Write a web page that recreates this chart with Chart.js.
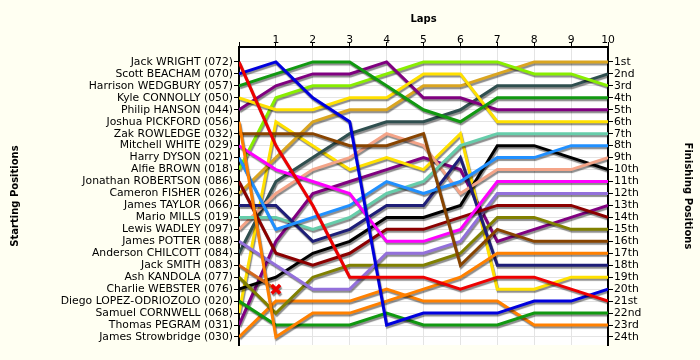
<!DOCTYPE html>
<html><head><meta charset="utf-8">
<script src="https://cdn.jsdelivr.net/npm/chart.js@4/dist/chart.umd.min.js"></script>
<style>html,body{margin:0;padding:0;background:#FFFFF2;}#wrap{width:700px;height:360px;}</style>
</head><body><div id="wrap"><canvas id="c" width="700" height="360"></canvas></div>
<script>
const laps = [0,1,2,3,4,5,6,7,8,9,10];
const lapLabels = ['', '1','2','3','4','5','6','7','8','9','10'];
const starters = ['Jack WRIGHT (072)','Scott BEACHAM (070)','Harrison WEDGBURY (057)','Kyle CONNOLLY (050)','Philip HANSON (044)','Joshua PICKFORD (056)','Zak ROWLEDGE (032)','Mitchell WHITE (029)','Harry DYSON (021)','Alfie BROWN (018)','Jonathan ROBERTSON (086)','Cameron FISHER (026)','James TAYLOR (066)','Mario MILLS (019)','Lewis WADLEY (097)','James POTTER (088)','Anderson CHILCOTT (084)','Jack SMITH (083)','Ash KANDOLA (077)','Charlie WEBSTER (076)','Diego LOPEZ-ODRIOZOLO (020)','Samuel CORNWELL (068)','Thomas PEGRAM (031)','James Strowbridge (030)'];
const finishLabels = ['1st','2nd','3rd','4th','5th','6th','7th','8th','9th','10th','11th','12th','13th','14th','15th','16th','17th','18th','19th','20th','21st','22nd','23rd','24th'];

// positions per lap (lap 0 = grid)
const wright     = [1, 8, 13, 19, 19, 19, 20, 19, 19, 20, 21];
const beacham    = [2, 1, 4, 6, 23, 22, 22, 22, 21, 21, 20];
const wedgbury   = [3, 2, 1, 1, 3, 5, 6, 4, 4, 4, 4];
const connolly   = [4, 5, 5, 4, 4, 2, 2, 6, 6, 6, 6];
const hanson     = [5, 3, 2, 2, 1, 4, 4, 5, 5, 5, 5];
const pickford   = [6, 24, 22, 22, 21, 20, 19, 17, 17, 17, 17];
const rowledge   = [7, 7, 7, 8, 8, 7, 18, 15, 16, 16, 16];
const white      = [8, 10, 11, 12, 16, 16, 15, 11, 11, 11, 11];
const dyson      = [9, 15, 14, 13, 11, 12, 11, 9, 9, 8, 8];
const brown      = [10, 4, 3, 3, 2, 1, 1, 1, 2, 2, 3];
const robertson  = [11, 17, 18, 17, 15, 15, 14, 13, 13, 13, 14];
const fisher     = [12, 9, 6, 5, 5, 3, 3, 2, 1, 1, 1];
const taylor     = [13, 13, 16, 15, 13, 13, 9, 18, 18, 18, 18];
const mills      = [14, 14, 15, 14, 12, 11, 8, 7, 7, 7, 7];
const wadley     = [15, 12, 10, 9, 7, 8, 12, 10, 10, 10, 9];
const potter     = [16, 18, 20, 20, 17, 17, 16, 12, 12, 12, 12];
const chilcott   = [17, 11, 9, 7, 6, 6, 5, 3, 3, 3, 2];
const smith      = [18, 20];
const kandola    = [19, 22, 19, 18, 18, 18, 17, 14, 14, 15, 15];
const webster    = [20, 19, 17, 16, 14, 14, 13, 8, 8, 9, 10];
const lopez      = [21, 23, 23, 23, 22, 23, 23, 23, 22, 22, 22];
const cornwell   = [22, 6, 8, 10, 9, 10, 7, 20, 20, 19, 19];
const pegram     = [23, 16, 12, 11, 10, 9, 10, 16, 15, 14, 13];
const strowbridge= [24, 21, 21, 21, 20, 21, 21, 21, 23, 23, 23];

const series = [wright, beacham, wedgbury, connolly, hanson, pickford, rowledge, white, dyson, brown, robertson, fisher, taylor, mills, wadley, potter, chilcott, smith, kandola, webster, lopez, cornwell, pegram, strowbridge];
const colours = ['#EE0000','#0000DD','#119911','#FFE000','#800080','#FF8000','#884400','#FF00FF','#2090FF','#88EE00','#8B0000','#DAA520','#1E1E78','#66CDAA','#F4A488','#9370DB','#2F4F4F','#D2691E','#808000','#000000','#119911','#FFE000','#800080','#FF8000'];

const datasets = series.map((arr, i) => ({
  label: starters[i],
  data: arr.map((p, k) => ({x: laps[k], y: p})),
  borderColor: colours[i],
  backgroundColor: colours[i],
  borderWidth: 3,
  tension: 0,
  fill: false,
  pointRadius: arr === smith ? arr.map((p, k) => k === arr.length - 1 ? 6 : 0) : 0,
  pointStyle: 'crossRot',
  pointBorderColor: '#EE0000',
  pointBorderWidth: 3.5,
  yAxisID: 'y'
}));

const bgPlugin = {
  id: 'bg',
  beforeDraw(chart) {
    const {ctx, chartArea: a} = chart;
    ctx.save();
    ctx.fillStyle = '#FFFFF2';
    ctx.fillRect(0, 0, chart.width, chart.height);
    ctx.fillStyle = '#FFFFFF';
    ctx.fillRect(a.left, a.top, a.right - a.left, a.bottom - a.top);
    ctx.restore();
  }
};
const shadowPlugin = {
  id: 'shadow',
  beforeDatasetDraw(chart) {
    const ctx = chart.ctx;
    ctx.save();
    ctx.shadowColor = 'rgba(0,0,0,0.45)';
    ctx.shadowBlur = 1;
    ctx.shadowOffsetX = 1;
    ctx.shadowOffsetY = 2;
  },
  afterDatasetDraw(chart) { chart.ctx.restore(); }
};

const tickFont = {family: 'DejaVu Sans', size: 10.8};
const titleFont = {family: 'DejaVu Sans', size: 10, weight: 'bold'};
const posTicks = starters.map((s, i) => ({value: i + 1}));

new Chart(document.getElementById('c'), {
  type: 'line',
  data: {datasets},
  options: {
    responsive: false,
    animation: false,
    devicePixelRatio: 1,
    layout: {padding: {left: 0, right: 0, top: 0, bottom: 15}},
    plugins: {legend: {display: false}, tooltip: {enabled: false}},
    scales: {
      x: {
        type: 'linear', position: 'top', min: 0, max: 10,
        afterBuildTicks: s => { s.ticks = laps.map(v => ({value: v})); },
        afterFit: s => { s.height = 47; },
        ticks: {font: tickFont, color: '#000', padding: -5, callback: v => lapLabels[v], maxRotation: 0},
        grid: {color: '#E4E4E4', tickColor: '#000', tickLength: 5},
        border: {color: '#000', width: 2},
        title: {display: true, text: 'Laps', font: titleFont, color: '#000', padding: {top: 13, bottom: 0}}
      },
      y: {
        type: 'linear', position: 'left', reverse: true, min: -0.25, max: 24.67,
        afterBuildTicks: s => { s.ticks = posTicks.map(t => ({value: t.value})); },
        afterFit: s => { s.width = 239; },
        ticks: {font: tickFont, color: '#000', padding: 1, callback: v => starters[v - 1], autoSkip: false},
        grid: {color: '#E4E4E4', tickColor: '#000', tickLength: 5},
        border: {color: '#000', width: 2},
        title: {display: true, text: 'Starting Positions', font: titleFont, color: '#000', padding: {top: 9, bottom: 0}}
      },
      y2: {
        type: 'linear', position: 'right', reverse: true, min: -0.25, max: 24.67,
        afterBuildTicks: s => { s.ticks = posTicks.map(t => ({value: t.value})); },
        afterFit: s => { s.width = 92; },
        ticks: {font: tickFont, color: '#000', padding: 1, callback: v => finishLabels[v - 1], autoSkip: false},
        grid: {drawOnChartArea: false, tickColor: '#000', tickLength: 5},
        border: {color: '#000', width: 2},
        title: {display: true, text: 'Finishing Positions', font: titleFont, color: '#000', padding: {top: 6, bottom: 0}}
      }
    }
  },
  plugins: [bgPlugin, shadowPlugin]
});
</script>
</body></html>
